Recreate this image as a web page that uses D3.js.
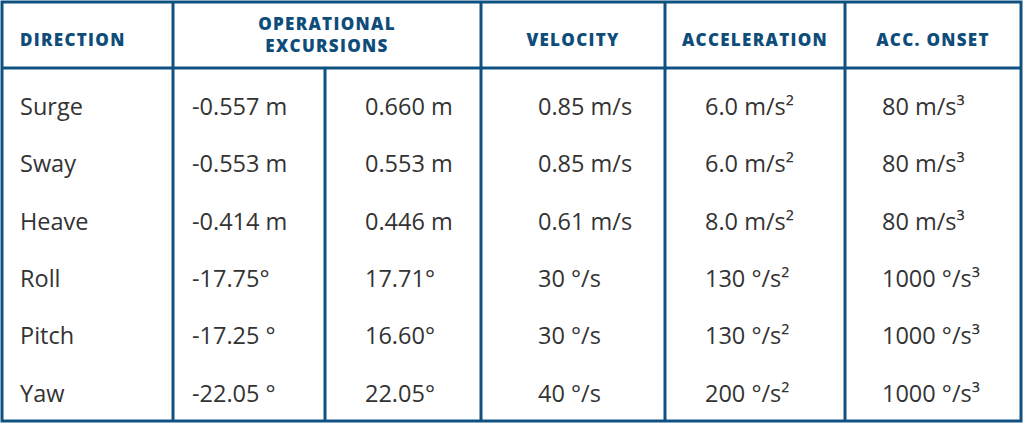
<!DOCTYPE html>
<html><head><meta charset="utf-8">
<script src="https://cdn.jsdelivr.net/npm/d3@7"></script>
<style>body{margin:0;background:#fff}</style>
</head><body><div id="chart"></div>
<script>
const directions = ["Surge", "Sway", "Heave", "Roll", "Pitch", "Yaw"];
const excursionMin = ["-0.557 m", "-0.553 m", "-0.414 m", "-17.75°", "-17.25 °", "-22.05 °"];
const excursionMax = ["0.660 m", "0.553 m", "0.446 m", "17.71°", "16.60°", "22.05°"];
const velocity = ["0.85 m/s", "0.85 m/s", "0.61 m/s", "30 °/s", "30 °/s", "40 °/s"];
const acceleration = ["6.0 m/s²", "6.0 m/s²", "8.0 m/s²", "130 °/s²", "130 °/s²", "200 °/s²"];
const accOnset = ["80 m/s³", "80 m/s³", "80 m/s³", "1000 °/s³", "1000 °/s³", "1000 °/s³"];
const headers = [["DIRECTION"], ["OPERATIONAL", "EXCURSIONS"], ["VELOCITY"], ["ACCELERATION"], ["ACC. ONSET"]];

const W = 1024, H = 424, blue = "#0f5282";
const svg = d3.select("#chart").append("svg").attr("width", W).attr("height", H);

// column edges
const edges = [2, 173, 481, 665, 845, 1021];
const innerEdge = 325;
const headerBottom = 68;
const textX = [20, 192, 365, 538, 705, 882];

const y = d3.scaleBand().domain(d3.range(directions.length)).range([78, 422]);

const columns = [directions, excursionMin, excursionMax, velocity, acceleration, accOnset];
columns.forEach((col, ci) => {
    svg.append("g").selectAll("text").data(col).join("text")
        .attr("x", textX[ci])
        .attr("y", (d, i) => y(i) + y.bandwidth() / 2)
        .attr("dy", "0.35em")
        .attr("font-family", "Open Sans")
        .attr("font-size", 23.5)
        .attr("fill", "#333")
        .text(d => d);
});

// headers
headers.forEach((lines, hi) => {
    const cx = hi === 0 ? null : (edges[hi] + edges[hi + 1]) / 2;
    const t = svg.append("text")
        .attr("font-family", "Open Sans").attr("font-weight", 800)
        .attr("font-size", 17).attr("letter-spacing", 1.3)
        .attr("fill", "#0e4c7a")
        .attr("text-anchor", hi === 0 ? "start" : "middle");
    lines.forEach((l, li) => {
        t.append("tspan")
            .attr("x", hi === 0 ? 20 : cx)
            .attr("y", lines.length === 1 ? 46 : 30 + li * 22)
            .text(l);
    });
});

// grid lines
const g = svg.append("g").attr("stroke", blue).attr("stroke-width", 3).attr("fill", "none");
g.append("rect").attr("x", edges[0]).attr("y", 2).attr("width", edges[5] - edges[0]).attr("height", 419);
g.append("line").attr("x1", edges[0]).attr("x2", edges[5]).attr("y1", headerBottom).attr("y2", headerBottom);
edges.slice(1, 5).forEach(x => g.append("line").attr("x1", x).attr("x2", x).attr("y1", 2).attr("y2", 421));
g.append("line").attr("x1", innerEdge).attr("x2", innerEdge).attr("y1", headerBottom).attr("y2", 421);
</script></body></html>
